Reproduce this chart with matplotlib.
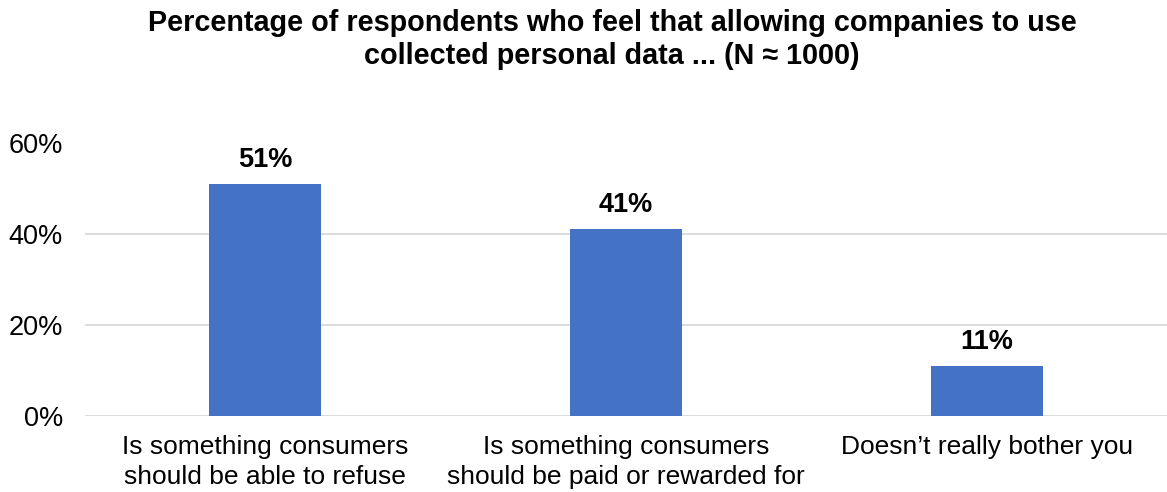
import matplotlib.pyplot as plt
from matplotlib.ticker import PercentFormatter

plt.rcParams['font.family'] = ['Liberation Sans', 'DejaVu Sans']

categories = ['Is something consumers\nshould be able to refuse',
              'Is something consumers\nshould be paid or rewarded for',
              'Doesn\u2019t really bother you']
values = [0.51, 0.41, 0.11]
labels = ['51%', '41%', '11%']
title = 'Percentage of respondents who feel that allowing companies to use\ncollected personal data ... (N \u2248 1000)'

fig = plt.figure(figsize=(11.67, 4.92), dpi=100)
ax = fig.add_axes([85 / 1167, 1 - 416 / 492, 1 - 85 / 1167, (416 - 143) / 492])

x = range(len(categories))
bars = ax.bar(x, values, width=0.31, color='#4472C4', zorder=3)

for xi, v, lab in zip(x, values, labels):
    ax.annotate(lab, (xi, v), xytext=(0, 8), textcoords='offset points',
                ha='center', va='bottom', fontsize=19.5, fontweight='bold')

ax.set_xlim(-0.5, len(categories) - 0.5)
ax.set_ylim(0, 0.6)
ax.set_yticks([0, 0.2, 0.4, 0.6])
ax.yaxis.set_major_formatter(PercentFormatter(1.0, decimals=0))
ax.set_xticks(list(x))
ax.set_xticklabels(categories, fontsize=19, linespacing=1.3)
ax.tick_params(axis='y', labelsize=19.5, length=0, pad=16)
ax.tick_params(axis='x', length=0, pad=14)

ax.grid(axis='y', color='#d9d9d9', linewidth=1.3, zorder=0)
ax.get_ygridlines()[-1].set_visible(False)
for s in ax.spines.values():
    s.set_visible(False)

fig.suptitle(title, fontsize=20.7, fontweight='bold', x=612 / 1167, y=0.982,
             linespacing=1.25)

fig.savefig('out.png', dpi=100)
